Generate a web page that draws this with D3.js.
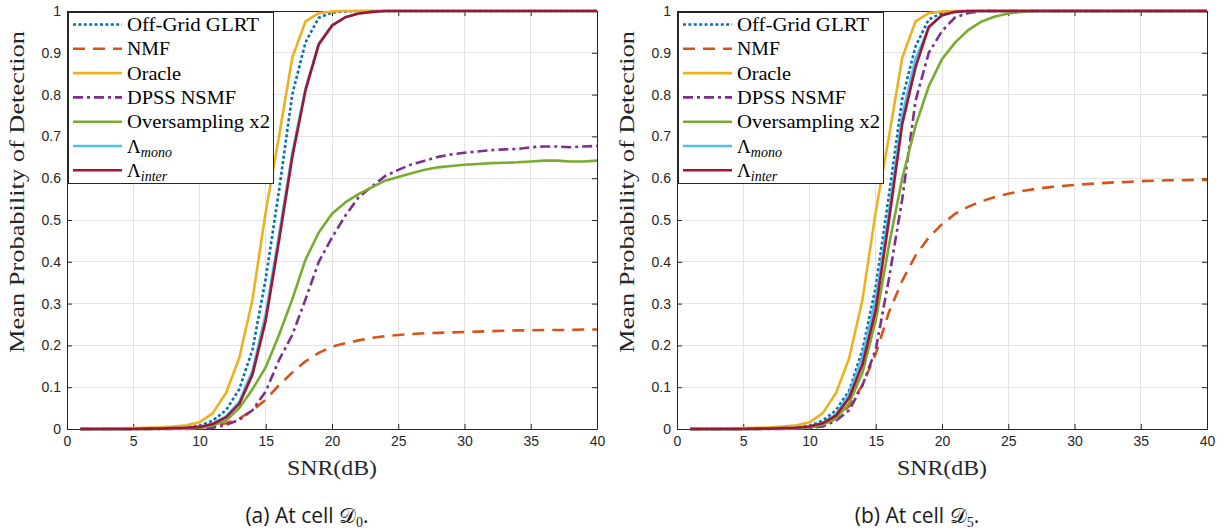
<!DOCTYPE html>
<html><head><meta charset="utf-8">
<script src="https://cdn.jsdelivr.net/npm/d3@7/dist/d3.min.js"></script>
<style>body{margin:0;background:#fff}svg{display:block}</style>
</head><body>
<svg id="chart" width="1229" height="531"></svg>
<script>
// ---------- data ----------
const snr = [1,2,3,4,5,6,7,8,9,10,11,12,13,14,15,16,17,18,19,20,21,22,23,24,25,26,27,28,29,30,31,32,33,34,35,36,37,38,39,40];
const xTicks = [0,5,10,15,20,25,30,35,40];
const yTicks = [0,0.1,0.2,0.3,0.4,0.5,0.6,0.7,0.8,0.9,1];
const yTickLabels = ["0","0.1","0.2","0.3","0.4","0.5","0.6","0.7","0.8","0.9","1"];
const seriesNames = ["Off-Grid GLRT","NMF","Oracle","DPSS NSMF","Oversampling x2","Λ|mono","Λ|inter"];
const seriesColors = ["#0072BD","#D95319","#EDB120","#7E2F8E","#77AC30","#4DBEEE","#A2142F"];
const captionText = ["(a) At cell ","(b) At cell "];
const captionSub = ["0","5"];

// cell D0
const glrtA = [0,0,0,0,0.001,0.001,0.002,0.003,0.005,0.008,0.02,0.045,0.095,0.19,0.36,0.57,0.80,0.925,0.984,0.996,0.999,1,1,1,1,1,1,1,1,1,1,1,1,1,1,1,1,1,1,1];
const nmfA = [0,0,0,0,0,0,0.001,0.001,0.002,0.003,0.007,0.014,0.025,0.045,0.07,0.105,0.135,0.162,0.182,0.197,0.205,0.212,0.218,0.222,0.225,0.227,0.229,0.23,0.231,0.232,0.233,0.234,0.235,0.236,0.236,0.237,0.237,0.237,0.238,0.238];
const oracleA = [0,0,0.001,0.001,0.002,0.003,0.004,0.006,0.009,0.016,0.038,0.086,0.17,0.31,0.52,0.70,0.888,0.975,0.995,0.999,1,1,1,1,1,1,1,1,1,1,1,1,1,1,1,1,1,1,1,1];
const dpssA = [0,0,0,0,0,0,0,0,0,0.001,0.003,0.01,0.022,0.045,0.09,0.165,0.225,0.31,0.40,0.458,0.51,0.554,0.58,0.605,0.62,0.633,0.642,0.651,0.657,0.661,0.664,0.667,0.669,0.67,0.674,0.676,0.676,0.674,0.676,0.677];
const overA = [0,0,0,0,0,0,0,0.001,0.001,0.003,0.008,0.02,0.05,0.095,0.148,0.225,0.31,0.405,0.47,0.515,0.542,0.562,0.578,0.594,0.603,0.612,0.62,0.626,0.629,0.632,0.634,0.636,0.637,0.638,0.64,0.642,0.642,0.64,0.64,0.642];
const monoA = [0,0,0,0,0,0.001,0.001,0.002,0.003,0.005,0.012,0.03,0.065,0.14,0.275,0.465,0.66,0.815,0.922,0.966,0.985,0.994,0.998,1,1,1,1,1,1,1,1,1,1,1,1,1,1,1,1,1];
const interA = [0,0,0,0,0,0.001,0.001,0.002,0.003,0.005,0.012,0.028,0.06,0.13,0.26,0.45,0.65,0.81,0.92,0.965,0.985,0.994,0.998,1,1,1,1,1,1,1,1,1,1,1,1,1,1,1,1,1];

// cell D5
const glrtB = [0,0,0,0,0.001,0.001,0.002,0.003,0.005,0.008,0.02,0.045,0.092,0.19,0.34,0.56,0.79,0.915,0.98,0.995,0.999,1,1,1,1,1,1,1,1,1,1,1,1,1,1,1,1,1,1,1];
const nmfB = [0,0,0,0,0,0,0.001,0.001,0.002,0.004,0.01,0.025,0.055,0.105,0.18,0.28,0.355,0.415,0.458,0.49,0.515,0.532,0.545,0.555,0.563,0.569,0.574,0.578,0.581,0.584,0.586,0.588,0.59,0.591,0.593,0.594,0.595,0.595,0.596,0.596];
const oracleB = [0,0,0.001,0.001,0.002,0.003,0.004,0.006,0.009,0.016,0.038,0.086,0.17,0.31,0.52,0.70,0.888,0.975,0.995,0.999,1,1,1,1,1,1,1,1,1,1,1,1,1,1,1,1,1,1,1,1];
const dpssB = [0,0,0,0,0,0,0,0,0.001,0.002,0.006,0.02,0.045,0.105,0.19,0.36,0.55,0.785,0.9,0.952,0.985,0.995,1,1,1,1,1,1,1,1,1,1,1,1,1,1,1,1,1,1];
const overB = [0,0,0,0,0,0,0.001,0.001,0.002,0.004,0.01,0.025,0.062,0.135,0.26,0.44,0.60,0.725,0.82,0.885,0.925,0.955,0.975,0.987,0.994,0.998,1,1,1,1,1,1,1,1,1,1,1,1,1,1];
const monoB = [0,0,0,0,0,0.001,0.001,0.002,0.003,0.006,0.015,0.035,0.085,0.175,0.31,0.52,0.75,0.885,0.96,0.99,0.998,1,1,1,1,1,1,1,1,1,1,1,1,1,1,1,1,1,1,1];
const interB = [0,0,0,0,0,0.001,0.001,0.002,0.003,0.006,0.014,0.032,0.075,0.155,0.285,0.50,0.73,0.865,0.962,0.99,0.998,1,1,1,1,1,1,1,1,1,1,1,1,1,1,1,1,1,1,1];

const panelSeries = [
  [glrtA, nmfA, oracleA, dpssA, overA, monoA, interA],
  [glrtB, nmfB, oracleB, dpssB, overB, monoB, interB]
];

// ---------- styles ----------
const dashes = ["3,2.4", "12,8", null, "10,4,3,4", null, null, null];
const lineW = 2.6;
const axisColor = "#262626";
const gridColor = "#e3e3e3";
const serif = "'Liberation Serif', 'DejaVu Serif', serif";
const sans = "'Liberation Sans', Arial, sans-serif";

const svg = d3.select("#chart");
const panelLeft = [67, 677];
const captionCenter = [307, 917];
const plotW = 530, plotTop = 11, plotBottom = 429;

panelLeft.forEach((L, p) => {
  const g = svg.append("g");
  const x = d3.scaleLinear().domain([0, 40]).range([L, L + plotW]);
  const y = d3.scaleLinear().domain([0, 1]).range([plotBottom, plotTop]);

  // grid
  g.append("g").selectAll("line").data(xTicks.slice(1, -1)).join("line")
    .attr("x1", d => x(d)).attr("x2", d => x(d)).attr("y1", plotTop).attr("y2", plotBottom)
    .attr("stroke", gridColor).attr("stroke-width", 1).attr("shape-rendering", "crispEdges");
  g.append("g").selectAll("line").data(yTicks.slice(1, -1)).join("line")
    .attr("y1", d => y(d)).attr("y2", d => y(d)).attr("x1", L).attr("x2", L + plotW)
    .attr("stroke", gridColor).attr("stroke-width", 1).attr("shape-rendering", "crispEdges");

  // axes
  const styleAxis = sel => {
    sel.selectAll("path.domain").attr("stroke", axisColor).attr("stroke-width", 1);
    sel.selectAll(".tick line").attr("stroke", axisColor);
    sel.selectAll(".tick text").attr("fill", axisColor).attr("font-family", sans).attr("font-size", 14);
  };
  g.append("g").attr("transform", `translate(0,${plotBottom})`)
    .call(d3.axisBottom(x).tickValues(xTicks).tickSizeInner(-5).tickSizeOuter(0).tickPadding(7))
    .call(styleAxis);
  g.append("g").attr("transform", `translate(0,${plotTop})`)
    .call(d3.axisTop(x).tickValues(xTicks).tickSizeInner(-5).tickSizeOuter(0).tickFormat(""))
    .call(styleAxis);
  g.append("g").attr("transform", `translate(${L},0)`)
    .call(d3.axisLeft(y).tickValues(yTicks).tickSizeInner(-5).tickSizeOuter(0).tickPadding(6)
      .tickFormat((d, i) => yTickLabels[i]))
    .call(styleAxis);
  g.append("g").attr("transform", `translate(${L + plotW},0)`)
    .call(d3.axisRight(y).tickValues(yTicks).tickSizeInner(-5).tickSizeOuter(0).tickFormat(""))
    .call(styleAxis);

  // lines
  const line = d3.line().x((d, i) => x(snr[i])).y(d => y(d));
  panelSeries[p].forEach((vals, k) => {
    g.append("path").datum(vals)
      .attr("d", line)
      .attr("fill", "none")
      .attr("stroke", seriesColors[k])
      .attr("stroke-width", lineW)
      .attr("stroke-dasharray", dashes[k])
      .attr("stroke-linejoin", "round");
  });

  // axis labels
  g.append("text").attr("x", x(20)).attr("y", 475).attr("text-anchor", "middle")
    .attr("font-family", serif).attr("font-size", 22).attr("fill", axisColor)
    .attr("textLength", 90).attr("lengthAdjust", "spacingAndGlyphs").text("SNR(dB)");
  g.append("text").attr("transform", `translate(${L - 43},192) rotate(-90)`).attr("text-anchor", "middle")
    .attr("font-family", serif).attr("font-size", 21).attr("fill", axisColor)
    .attr("textLength", 322).attr("lengthAdjust", "spacingAndGlyphs")
    .text("Mean Probability of Detection");

  // legend
  const lg = g.append("g");
  lg.append("rect").attr("x", L + 1.5).attr("y", plotTop + 1.5).attr("width", 205).attr("height", 171)
    .attr("fill", "#fff").attr("stroke", axisColor).attr("stroke-width", 1);
  const widths = [132, 43, 54, 109, 143, null, null];
  seriesNames.forEach((nm, k) => {
    const cy = 24.5 + k * 24.3;
    lg.append("line").attr("x1", L + 6).attr("x2", L + 55).attr("y1", cy).attr("y2", cy)
      .attr("stroke", seriesColors[k]).attr("stroke-width", lineW)
      .attr("stroke-dasharray", dashes[k]);
    const t = lg.append("text").attr("x", L + 60).attr("y", cy + 6.5)
      .attr("font-family", serif).attr("font-size", 19).attr("fill", "#000");
    if (nm.includes("|")) {
      const [a, b] = nm.split("|");
      t.append("tspan").text(a);
      t.append("tspan").attr("dy", 4).attr("font-size", 14).attr("font-style", "italic").text(b);
    } else {
      t.text(nm);
      if (widths[k]) t.attr("textLength", widths[k]).attr("lengthAdjust", "spacingAndGlyphs");
    }
  });

  // caption
  const cap = svg.append("text").attr("x", captionCenter[p]).attr("y", 523).attr("text-anchor", "middle")
    .attr("font-family", "'Open Sans', 'Noto Sans', sans-serif").attr("font-size", 21).attr("fill", "#1a1a1a");
  cap.append("tspan").text(captionText[p]);
  cap.append("tspan").attr("font-family", "'DejaVu Serif', serif").text("𝒟");
  cap.append("tspan").attr("dy", 4).attr("font-size", 14).attr("font-family", serif).text(captionSub[p]);
  cap.append("tspan").attr("dy", -4).text(".");
});
</script>
</body></html>
